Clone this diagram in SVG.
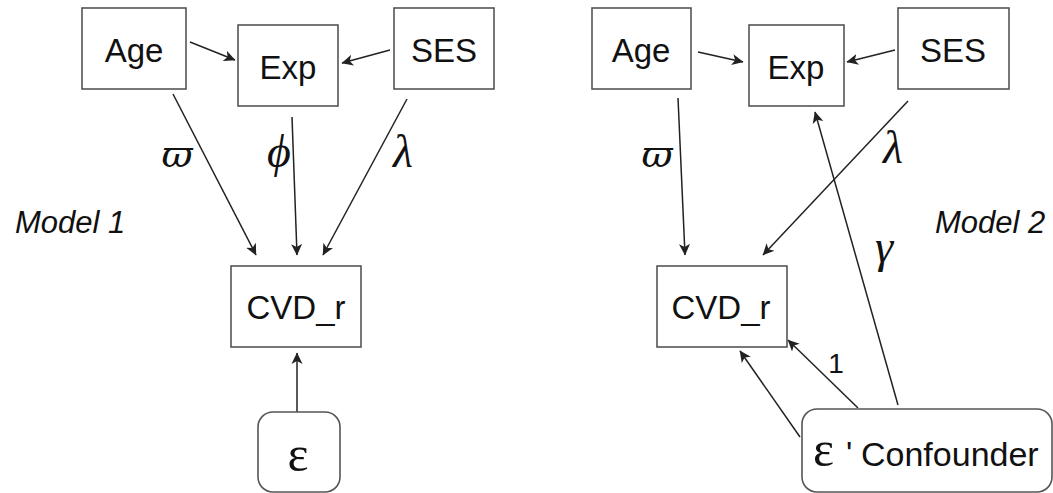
<svg xmlns="http://www.w3.org/2000/svg" width="1053" height="493" viewBox="0 0 1053 493">
<defs>
<style>
.box{fill:#fff;stroke:#555;stroke-width:1.6}
.lbl{font-family:"Liberation Sans",Arial,sans-serif;font-size:33px;fill:#111;text-anchor:middle}
.model{font-family:"Liberation Sans",Arial,sans-serif;font-size:31px;font-style:italic;fill:#111}
.greek{font-family:"Liberation Serif","DejaVu Serif",serif;font-style:italic;font-size:46px;fill:#111;text-anchor:middle}
.pi{font-family:"DejaVu Serif",serif;font-style:italic;font-size:38px;fill:#111;text-anchor:middle}
.eps{font-family:"Liberation Serif","DejaVu Serif",serif;font-size:50px;fill:#111}
.edge{stroke:#222;stroke-width:1.5;fill:none;marker-end:url(#ah)}
</style>
<marker id="ah" viewBox="0 0 12 12" refX="11" refY="6" markerWidth="12" markerHeight="12" orient="auto" markerUnits="userSpaceOnUse">
<path d="M0,0.5 L11.5,6 L0,11.5 L3,6 z" fill="#222"/>
</marker>
</defs>
<rect width="1053" height="493" fill="#fff"/>

<g id="connectors">
<line class="edge" x1="190" y1="42" x2="235" y2="60"/>
<line class="edge" x1="390" y1="50" x2="342" y2="63"/>
<line class="edge" x1="173" y1="94" x2="256" y2="255"/>
<line class="edge" x1="292" y1="117" x2="297" y2="255"/>
<line class="edge" x1="407" y1="99" x2="323" y2="255"/>
<line class="edge" x1="297" y1="412" x2="297" y2="353"/>

<line class="edge" x1="698" y1="52" x2="743" y2="62"/>
<line class="edge" x1="895" y1="50" x2="847" y2="62"/>
<line class="edge" x1="678" y1="98" x2="685" y2="255"/>
<line class="edge" x1="908" y1="101" x2="763" y2="255"/>
<line class="edge" x1="898" y1="405" x2="815" y2="112"/>
<line class="edge" x1="858" y1="408" x2="788" y2="340"/>
<line class="edge" x1="800" y1="437" x2="740" y2="351"/>
</g>

<g id="edge-labels">
<text class="pi" x="177" y="167">ϖ</text>
<text class="greek" x="279" y="167">ϕ</text>
<text class="greek" x="403" y="167">λ</text>
<text class="pi" x="657" y="167">ϖ</text>
<text class="greek" x="893" y="163">λ</text>
<text class="greek" x="884" y="262">γ</text>
<text class="lbl" x="836" y="373" style="font-size:28px">1</text>
</g>

<text class="model" x="15" y="233">Model 1</text>
<text class="model" x="935" y="233">Model 2</text>

<g id="m1-age"><rect class="box" x="82" y="8" width="104" height="81"/><text class="lbl" x="134" y="62">Age</text></g>
<g id="m1-exp"><rect class="box" x="238" y="25" width="100" height="81"/><text class="lbl" x="288" y="79">Exp</text></g>
<g id="m1-ses"><rect class="box" x="394" y="8" width="100" height="81"/><text class="lbl" x="444" y="62">SES</text></g>
<g id="m1-cvd"><rect class="box" x="231" y="266" width="130" height="81"/><text class="lbl" x="296" y="319">CVD_r</text></g>
<g id="m1-eps"><rect class="box" x="258" y="412" width="82" height="80" rx="15"/><text class="eps" x="298" y="471" text-anchor="middle">ε</text></g>

<g id="m2-age"><rect class="box" x="592" y="8" width="99" height="81"/><text class="lbl" x="641" y="62">Age</text></g>
<g id="m2-exp"><rect class="box" x="749" y="25" width="95" height="81"/><text class="lbl" x="796" y="79">Exp</text></g>
<g id="m2-ses"><rect class="box" x="898" y="8" width="111" height="81"/><text class="lbl" x="953" y="62">SES</text></g>
<g id="m2-cvd"><rect class="box" x="657" y="266" width="130" height="81"/><text class="lbl" x="721" y="319">CVD_r</text></g>
<g id="m2-conf"><rect class="box" x="802" y="409" width="250" height="83" rx="15"/>
<text class="eps" x="813" y="466">ε</text>
<text x="846" y="465" style="font-family:'Liberation Sans',Arial,sans-serif;font-size:33px;fill:#111">'</text>
<text x="861" y="466" style="font-family:'Liberation Sans',Arial,sans-serif;font-size:34px;fill:#111">Confounder</text>
</g>
</svg>
